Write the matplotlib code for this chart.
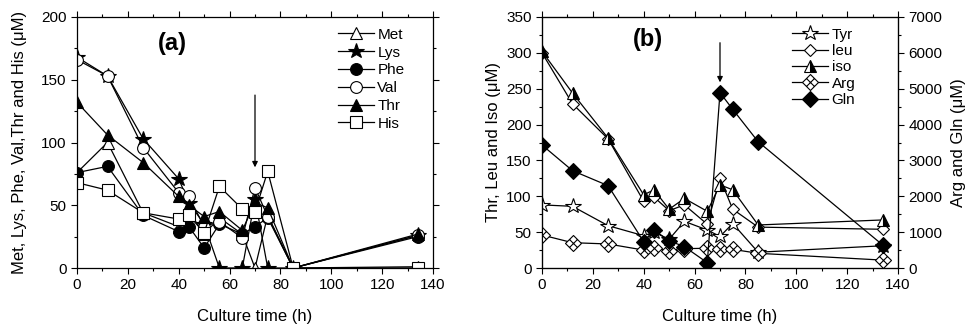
import matplotlib
matplotlib.use("Agg")
import matplotlib.pyplot as plt
from matplotlib.path import Path
from matplotlib.ticker import MultipleLocator

plt.rcParams['font.family'] = ['Liberation Sans', 'DejaVu Sans']

# ---- data ----
time_h = [0, 12, 26, 40, 44, 50, 56, 65, 70, 75, 85, 134]

met = [76, 100, 44, 33, 45, 27, 40, 27, 0, 42, 0, 1]
lys = [168, 153, 103, 71, 52, 35, 0, 0, 55, 0, 0, 26]
phe = [76, 81, 42, 29, 33, 16, 35, 27, 33, 40, 0, 25]
val = [166, 153, 96, 60, 57, 33, 37, 24, 64, 41, 0, 26]
thr = [132, 106, 84, 57, 50, 41, 45, 30, 52, 48, 0, 27]
his = [68, 62, 44, 39, 42, 28, 65, 47, 45, 77, 0, 0]

tyr = [88, 86, 59, 45, 50, 40, 65, 53, 44, 62, 22, 31]
leu = [300, 229, 180, 93, 99, 80, 88, 61, 125, 82, 57, 54]
iso = [302, 244, 181, 102, 109, 82, 97, 79, 116, 109, 60, 67]
arg = [920, 706, 670, 500, 550, 480, 540, 550, 520, 520, 410, 220]
gln = [3430, 2714, 2296, 734, 1060, 760, 594, 148, 4890, 4426, 3522, 640]

arrow_x = 70
arrow_a = (140, 78)
arrow_b = (318, 255)

# crossed-diamond marker
verts = [(0, 1), (1, 0), (0, -1), (-1, 0), (0, 1),
         (-0.5, 0.5), (0.5, -0.5),
         (0.5, 0.5), (-0.5, -0.5)]
codes = [Path.MOVETO, Path.LINETO, Path.LINETO, Path.LINETO, Path.CLOSEPOLY,
         Path.MOVETO, Path.LINETO, Path.MOVETO, Path.LINETO]
cross_diamond = Path(verts, codes)

W, H = 971, 325
fig = plt.figure(figsize=(W / 100, H / 100), dpi=100)
axa = fig.add_axes([77 / W, (H - 268) / H, 356 / W, 251 / H])
axb = fig.add_axes([542 / W, (H - 268) / H, 356 / W, 251 / H])

ms = 8.5
lw = 0.9
fs = 11


def style(ax, ymax, ymaj, ymin):
    ax.set_xlim(0, 140)
    ax.set_ylim(0, ymax)
    ax.xaxis.set_major_locator(MultipleLocator(20))
    ax.xaxis.set_minor_locator(MultipleLocator(10))
    ax.yaxis.set_major_locator(MultipleLocator(ymaj))
    ax.yaxis.set_minor_locator(MultipleLocator(ymin))
    ax.tick_params(which='both', direction='out', labelsize=fs, width=0.8)
    ax.tick_params(which='major', length=4)
    ax.tick_params(which='minor', length=2.5)
    ax.tick_params(axis='x', which='both', top=True)
    for sp in ax.spines.values():
        sp.set_linewidth(0.9)


# ---- panel a ----
series_a = [
    ("Met", met, dict(marker='^', mfc='white')),
    ("Lys", lys, dict(marker='*', mfc='black', ms=ms + 3)),
    ("Phe", phe, dict(marker='o', mfc='black')),
    ("Val", val, dict(marker='o', mfc='white')),
    ("Thr", thr, dict(marker='^', mfc='black')),
    ("His", his, dict(marker='s', mfc='white')),
]
for name, y, kw in series_a:
    opts = dict(color='black', lw=lw, ms=ms, mec='black', mew=0.8)
    opts.update(kw)
    axa.plot(time_h, y, label=name, **opts)
style(axa, 200, 50, 25)
axa.tick_params(axis='y', which='both', right=True)
axa.set_ylabel("Met, Lys, Phe, Val,Thr and His (\u03bcM)", fontsize=fs + 1, labelpad=10)
axa.set_xlabel("Culture time (h)", fontsize=fs + 1, labelpad=12)
axa.text(37.7, 179, "(a)", fontsize=17, fontweight='bold', ha='center', va='center')
axa.annotate("", xy=(arrow_x, arrow_a[1]), xytext=(arrow_x, arrow_a[0]),
             arrowprops=dict(arrowstyle='-|>', color='black', lw=0.9, mutation_scale=8))
axa.legend(loc='upper right', bbox_to_anchor=(0.95, 1.0), frameon=False, fontsize=fs,
           handlelength=2.4, handletextpad=0.2, labelspacing=0.25, borderaxespad=0.3)

# ---- panel b ----
axb2 = axb.twinx()
hb = []
hb += axb.plot(time_h, tyr, color='black', lw=lw, marker='*', ms=ms + 3, mfc='white', mec='black', mew=0.8, label='Tyr')
hb += axb.plot(time_h, leu, color='black', lw=lw, marker='D', ms=ms - 2, mfc='white', mec='black', mew=0.8, label='leu')
hb += axb.plot(time_h, iso, color='black', lw=lw, marker='^', ms=ms, mfc='black', mfcalt='white', fillstyle='right',
               mec='black', mew=0.8, label='iso')
hb += axb2.plot(time_h, arg, color='black', lw=lw, marker=cross_diamond, ms=ms + 3, mfc='white', mec='black', mew=0.8, label='Arg')
hb += axb2.plot(time_h, gln, color='black', lw=lw, marker='D', ms=ms, mfc='black', mec='black', mew=0.8, label='Gln')
style(axb, 350, 50, 25)
axb2.set_ylim(0, 7000)
axb2.yaxis.set_major_locator(MultipleLocator(1000))
axb2.yaxis.set_minor_locator(MultipleLocator(500))
axb2.tick_params(which='both', direction='out', labelsize=fs, width=0.8)
axb2.tick_params(which='major', length=4)
axb2.tick_params(which='minor', length=2.5)
axb.set_ylabel("Thr, Leu and Iso (\u03bcM)", fontsize=fs + 1)
axb2.set_ylabel("Arg and Gln (\u03bcM)", fontsize=fs + 1, labelpad=6)
axb.set_xlabel("Culture time (h)", fontsize=fs + 1, labelpad=12)
axb.text(41.7, 318, "(b)", fontsize=17, fontweight='bold', ha='center', va='center')
axb.annotate("", xy=(arrow_x, arrow_b[1]), xytext=(arrow_x, arrow_b[0]),
             arrowprops=dict(arrowstyle='-|>', color='black', lw=0.9, mutation_scale=8))
axb2.legend(handles=hb, loc='upper right', bbox_to_anchor=(0.91, 1.0), frameon=False, fontsize=fs,
            handlelength=2.4, handletextpad=0.2, labelspacing=0.15, borderaxespad=0.3)

fig.savefig("out.png", dpi=100)
